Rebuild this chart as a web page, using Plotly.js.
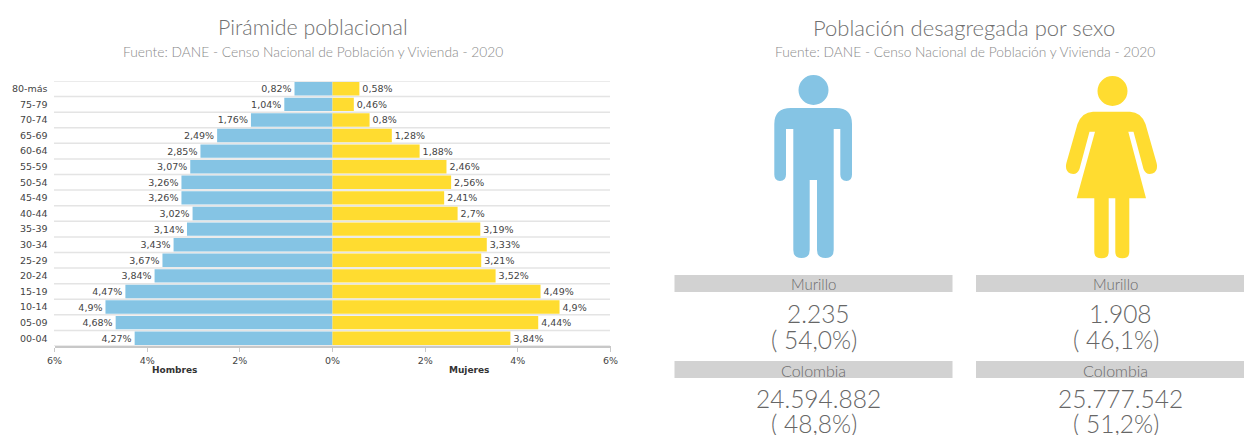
<!DOCTYPE html>
<html><head><meta charset="utf-8">
<script src="https://cdn.plot.ly/plotly-3.0.1.min.js"></script>
<style>html,body{margin:0;padding:0;background:#fff}#c{width:1244px;height:435px}</style></head>
<body><div id="c"></div>
<script>
const ageGroups=["80-más","75-79","70-74","65-69","60-64","55-59","50-54","45-49","40-44","35-39","30-34","25-29","20-24","15-19","10-14","05-09","00-04"];
const hombres=[0.82,1.04,1.76,2.49,2.85,3.07,3.26,3.26,3.02,3.14,3.43,3.67,3.84,4.47,4.9,4.68,4.27];
const mujeres=[0.58,0.46,0.8,1.28,1.88,2.46,2.56,2.41,2.7,3.19,3.33,3.21,3.52,4.49,4.9,4.44,3.84];
const axisTicks=[-6,-4,-2,0,2,4,6];
const axisTickLabels=["6%","4%","2%","0%","2%","4%","6%"];
const panelHeaders=["Murillo","Colombia"];
const hombresTotales=["2.235","24.594.882"];
const hombresPct=["( 54,0%)","( 48,8%)"];
const mujeresTotales=["1.908","25.777.542"];
const mujeresPct=["( 46,1%)","( 51,2%)"];

const W=1244,H=435;
const BLUE="#85C4E4",YEL="#FFDC30",SOFT="#707070",THIN="Lato, 'Open Sans', sans-serif",MONO="'DejaVu Sans', Verdana, sans-serif";
const fx=x=>x/W, fy=y=>1-y/H;
const toPaper=d=>d.replace(/(-?[\d.]+) (-?[\d.]+)/g,(m,x,y)=>fx(+x)+" "+fy(+y));
const lab=v=>String(v).replace(".",",")+"%";

const man="M786 129 L786 174.5 Q786 181 780 181 Q774.3 181 774.3 174.5 L774.3 124 Q774.3 108 791 108 L836 108 Q852 108 852 124 L852 174.5 Q852 181 846.5 181 Q840.3 181 840.3 174.5 L840.3 129 L833.7 129 L833.7 250 Q833.7 258 825.5 258 Q817 258 817 250 L817 180 L809.7 180 L809.7 250 Q809.7 258 801.5 258 Q793.3 258 793.3 250 L793.3 129 Z";
const woman="M1093 111.7 L1130 111.7 Q1141 112 1145.5 124 L1156.6 163 Q1158.5 171 1152.5 173.6 Q1146 175.5 1143.5 169 L1133.5 131.7 L1128.3 131.7 L1146 198.3 L1129.3 198.3 L1129.3 252 Q1129.3 258.3 1122.3 258.3 Q1115.3 258.3 1115.3 252 L1115.3 198.3 L1108.7 198.3 L1108.7 252 Q1108.7 258.3 1101.5 258.3 Q1094.3 258.3 1094.3 252 L1094.3 198.3 L1076.7 198.3 L1095 131.7 L1089.5 131.7 L1079.5 169 Q1077 175.5 1070.5 173.6 Q1064.5 171 1066.4 163 L1077.5 124 Q1082 112 1093 111.7 Z";

const shapes=[];
for(let i=0;i<=ageGroups.length;i++){
  shapes.push({type:"line",layer:"below",xref:"paper",yref:"y",x0:fx(54),x1:fx(610),y0:i-0.5,y1:i-0.5,line:{color:"#e4e4e4",width:1.5}});
}
shapes.push({type:"circle",xref:"paper",yref:"paper",x0:fx(798.5),x1:fx(828.5),y0:fy(105),y1:fy(75),fillcolor:BLUE,line:{width:0}});
shapes.push({type:"path",xref:"paper",yref:"paper",path:toPaper(man),fillcolor:BLUE,line:{width:0}});
shapes.push({type:"circle",xref:"paper",yref:"paper",x0:fx(1097.5),x1:fx(1127.5),y0:fy(106),y1:fy(76),fillcolor:YEL,line:{width:0}});
shapes.push({type:"path",xref:"paper",yref:"paper",path:toPaper(woman),fillcolor:YEL,line:{width:0}});
[[674.5,952.5],[976,1244]].forEach(b=>[[275,292],[361,378]].forEach(r=>{
  shapes.push({type:"rect",xref:"paper",yref:"paper",x0:fx(b[0]),x1:fx(b[1]),y0:fy(r[1]),y1:fy(r[0]),fillcolor:"#d2d2d2",line:{width:0}});
}));

const note=(t,x,y,size,color,font,weight)=>({text:t,xref:"paper",yref:"paper",x:fx(x),y:fy(y),xanchor:"center",yanchor:"middle",showarrow:false,font:{size:size,color:color,family:font,weight:weight||400}});
const ann=[
 note("Pirámide poblacional",313,27,21.4,SOFT,THIN,300),
 note("Fuente: DANE - Censo Nacional de Población y Vivienda - 2020",313,52,13.8,"#8a8a8a",THIN,300),
 note("Población desagregada por sexo",964,27,22,SOFT,THIN,300),
 note("Fuente: DANE - Censo Nacional de Población y Vivienda - 2020",964.5,52,13.8,"#8a8a8a",THIN,300),
 note("Hombres",174.5,370,9,"#333",MONO,700),
 note("Mujeres",469.5,370,9,"#333",MONO,700)
];
const cols=[[813.5,818,hombresTotales,hombresPct],[1115.5,1120.5,mujeresTotales,mujeresPct]];
cols.forEach(c=>{
  [[284,313,339],[370,398,423]].forEach((ys,i)=>{
    ann.push(note(panelHeaders[i],c[0],ys[0],i?16:15,"#6a6a6a",THIN,300));
    ann.push(note(c[2][i],c[1],ys[1],24.5,"#666",THIN,300));
    ann.push(note(c[3][i],c[0],ys[2],24.5,"#666",THIN,300));
  });
});

const tr=(vals,color,sign)=>({type:"bar",orientation:"h",y:ageGroups,x:vals.map(v=>sign*v),base:0,
  marker:{color:color,line:{width:0}},text:vals.map(lab),textposition:"outside",cliponaxis:false,constraintext:"none",
  textfont:{family:MONO,size:9.5,color:"#444"},hoverinfo:"skip",showlegend:false});

Plotly.newPlot("c",[tr(hombres,BLUE,-1),tr(mujeres,YEL,1)],{
  width:W,height:H,margin:{l:0,r:0,t:0,b:0},paper_bgcolor:"#fff",plot_bgcolor:"#fff",
  barmode:"overlay",bargap:0.14,showlegend:false,
  xaxis:{domain:[fx(54.5),fx(610.5)],range:[-6,6],tickvals:axisTicks,ticktext:axisTickLabels,showgrid:false,zeroline:false,
    showline:true,linecolor:"#c8c8c8",linewidth:1.5,ticks:"outside",ticklen:4,tickcolor:"#c8c8c8",ticklabelstandoff:1,tickfont:{family:MONO,size:9.5,color:"#444"},anchor:"y",fixedrange:true},
  yaxis:{domain:[fy(346),fy(81)],range:[ageGroups.length-0.5,-0.5],type:"category",categoryorder:"array",categoryarray:ageGroups,
    showgrid:false,zeroline:false,showline:false,ticks:"",ticklabelstandoff:6,tickfont:{family:MONO,size:9.5,color:"#444"},anchor:"x",fixedrange:true,automargin:false},
  shapes:shapes,annotations:ann
},{displayModeBar:false,staticPlot:true});
</script></body></html>
